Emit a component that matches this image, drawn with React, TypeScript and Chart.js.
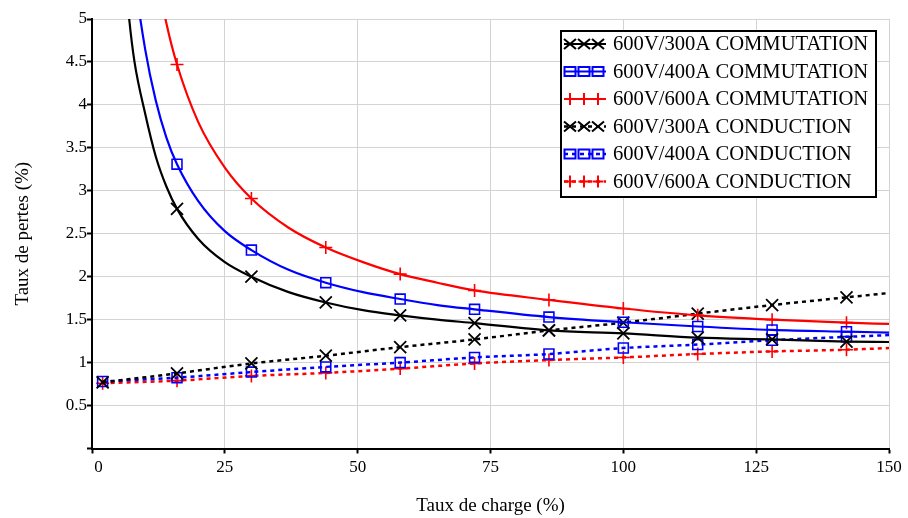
import React, { useEffect, useRef } from 'react';
import { Chart, registerables } from 'chart.js';

Chart.register(...registerables);

// ---- Data ----
const seriesLabels = [
  '600V/300A COMMUTATION',
  '600V/400A COMMUTATION',
  '600V/600A COMMUTATION',
  '600V/300A CONDUCTION',
  '600V/400A CONDUCTION',
  '600V/600A CONDUCTION',
];

// load (%) where markers are drawn
const markerLoads = [2, 16, 30, 44, 58, 72, 86, 100, 114, 128, 142];

// commutation curves (load %, loss %)
const commLoads = [5, 6, 7, 8, 10, 12, 14, 16, 20, 25, 30, 37, 44, 51, 58, 65, 72, 86, 100, 114, 128, 142, 150];
const comm300 = [6.6, 5.7, 5.0, 4.5, 3.9, 3.4, 3.05, 2.79, 2.44, 2.17, 2.0, 1.82, 1.7, 1.61, 1.55, 1.5, 1.46, 1.375, 1.34, 1.29, 1.27, 1.245, 1.24];
const comm400 = [8.1, 7.0, 6.1, 5.5, 4.65, 4.05, 3.62, 3.31, 2.88, 2.53, 2.31, 2.08, 1.93, 1.82, 1.74, 1.67, 1.62, 1.53, 1.47, 1.42, 1.38, 1.36, 1.35];
const comm600 = [11.9, 10.1, 8.8, 7.9, 6.5, 5.6, 4.95, 4.47, 3.8, 3.27, 2.91, 2.57, 2.34, 2.17, 2.03, 1.93, 1.84, 1.73, 1.63, 1.55, 1.5, 1.465, 1.45];

// conduction curves
const condLoads = [2, 16, 30, 44, 58, 72, 86, 100, 114, 128, 142, 150];
const cond300 = [0.77, 0.875, 0.99, 1.08, 1.18, 1.27, 1.375, 1.465, 1.57, 1.67, 1.76, 1.81];
const cond400 = [0.78, 0.825, 0.89, 0.95, 1.0, 1.06, 1.1, 1.17, 1.21, 1.26, 1.3, 1.32];
const cond600 = [0.76, 0.79, 0.845, 0.88, 0.93, 0.99, 1.03, 1.06, 1.1, 1.13, 1.15, 1.17];

// axes
const yTicksMax = 5;
const yStep = 0.5;
const xMax = 150;
const xStep = 25;
const xTitle = 'Taux de charge (%)';
const yTitle = 'Taux de pertes (%)';

const FONT = "'Liberation Serif', 'Times New Roman', serif";

function pts(xs: number[], ys: number[]) {
  return xs.map((x, i) => ({ x, y: ys[i] }));
}

function radii(xs: number[], r: number) {
  return xs.map((x) => (markerLoads.includes(x) ? r : 0));
}

function drawMark(ctx: CanvasRenderingContext2D, style: string, x: number, y: number) {
  ctx.beginPath();
  if (style === 'crossRot') {
    const d = 6;
    ctx.moveTo(x - d, y - d * 0.85);
    ctx.lineTo(x + d, y + d * 0.85);
    ctx.moveTo(x + d, y - d * 0.85);
    ctx.lineTo(x - d, y + d * 0.85);
  } else if (style === 'cross') {
    ctx.moveTo(x - 5.5, y);
    ctx.lineTo(x + 5.5, y);
    ctx.moveTo(x, y - 6);
    ctx.lineTo(x, y + 6);
  } else {
    ctx.rect(x - 5.5, y - 4.5, 11, 9);
  }
  ctx.stroke();
}

const boxLegend = {
  id: 'boxLegend',
  afterDraw(chart: any) {
    const ctx: CanvasRenderingContext2D = chart.ctx;
    const bx = 561, by = 31, bw = 315, bh = 166;
    ctx.save();
    ctx.fillStyle = '#ffffff';
    ctx.fillRect(bx, by, bw, bh);
    ctx.lineWidth = 2;
    ctx.strokeStyle = '#000';
    ctx.setLineDash([]);
    ctx.strokeRect(bx, by, bw, bh);
    chart.data.datasets.forEach((ds: any, i: number) => {
      const y = 44 + i * 27.5;
      ctx.strokeStyle = ds.borderColor;
      ctx.lineWidth = ds.borderWidth;
      ctx.setLineDash(ds.borderDash || []);
      ctx.beginPath();
      ctx.moveTo(564, y);
      ctx.lineTo(606, y);
      ctx.stroke();
      ctx.setLineDash([]);
      ctx.lineWidth = 2;
      [570, 584, 598].forEach((mx) => drawMark(ctx, ds.pointStyle, mx, y));
      ctx.fillStyle = '#000';
      ctx.font = `20.6px ${FONT}`;
      ctx.textAlign = 'left';
      ctx.textBaseline = 'middle';
      ctx.fillText(ds.label, 613, y + 1);
    });
    ctx.restore();
  },
};

export default function App() {
  const ref = useRef<HTMLCanvasElement | null>(null);

  useEffect(() => {
    document.body.style.margin = '0';
    const canvas = ref.current;
    if (!canvas) return;

    const common = {
      showLine: true,
      fill: false,
      pointBackgroundColor: 'rgba(0,0,0,0)',
      pointHoverRadius: 0,
      cubicInterpolationMode: 'monotone' as const,
    };

    const chart = new Chart(canvas, {
      type: 'line',
      data: {
        datasets: [
          {
            ...common,
            label: seriesLabels[0],
            data: pts(commLoads, comm300),
            borderColor: '#000000',
            pointBorderColor: '#000000',
            borderWidth: 2.2,
            pointStyle: 'crossRot',
            pointRadius: radii(commLoads, 8.5),
            pointBorderWidth: 1.8,
          },
          {
            ...common,
            label: seriesLabels[1],
            data: pts(commLoads, comm400),
            borderColor: '#0000ff',
            pointBorderColor: '#0000ff',
            borderWidth: 2.2,
            pointStyle: 'rect',
            pointRadius: radii(commLoads, 7),
            pointBorderWidth: 1.6,
          },
          {
            ...common,
            label: seriesLabels[2],
            data: pts(commLoads, comm600),
            borderColor: '#ff0000',
            pointBorderColor: '#ff0000',
            borderWidth: 2.2,
            pointStyle: 'cross',
            pointRadius: radii(commLoads, 6.5),
            pointBorderWidth: 1.6,
          },
          {
            ...common,
            label: seriesLabels[3],
            data: pts(condLoads, cond300),
            borderColor: '#000000',
            pointBorderColor: '#000000',
            borderWidth: 2.5,
            borderDash: [4, 4],
            pointStyle: 'crossRot',
            pointRadius: radii(condLoads, 8.5),
            pointBorderWidth: 1.8,
          },
          {
            ...common,
            label: seriesLabels[4],
            data: pts(condLoads, cond400),
            borderColor: '#0000ff',
            pointBorderColor: '#0000ff',
            borderWidth: 2.5,
            borderDash: [4, 4],
            pointStyle: 'rect',
            pointRadius: radii(condLoads, 7),
            pointBorderWidth: 1.6,
          },
          {
            ...common,
            label: seriesLabels[5],
            data: pts(condLoads, cond600),
            borderColor: '#ff0000',
            pointBorderColor: '#ff0000',
            borderWidth: 2.5,
            borderDash: [4, 4],
            pointStyle: 'cross',
            pointRadius: radii(condLoads, 6.5),
            pointBorderWidth: 1.6,
          },
        ],
      },
      options: {
        responsive: false,
        animation: false,
        events: [],
        layout: { padding: { top: 19, right: 19, bottom: 0, left: 0 } },
        plugins: {
          legend: { display: false },
          tooltip: { enabled: false },
        },
        scales: {
          x: {
            type: 'linear',
            min: 0,
            max: xMax,
            afterFit: (s: any) => {
              s.height = 69.5;
            },
            ticks: {
              stepSize: xStep,
              color: '#000',
              padding: 4,
              maxRotation: 0,
              font: { family: FONT, size: 17 },
              callback: (v: any) => (Number(v) === 0 ? '   0' : String(v)),
            },
            grid: {
              color: '#d3d3d3',
              lineWidth: 1,
              tickColor: '#000',
              tickLength: 5,
              tickWidth: 2,
            },
            border: { color: '#000', width: 2 },
            title: {
              display: true,
              text: xTitle,
              color: '#000',
              font: { family: FONT, size: 19 },
              padding: { top: 0, bottom: 1 },
            },
          },
          y: {
            type: 'linear',
            min: 0,
            max: yTicksMax,
            afterFit: (s: any) => {
              s.width = 92;
            },
            ticks: {
              stepSize: yStep,
              color: '#000',
              padding: 0,
              font: { family: FONT, size: 17 },
              callback: (v: any) => (Number(v) === 0 ? '' : String(v)),
            },
            grid: {
              color: '#d3d3d3',
              lineWidth: 1,
              tickColor: '#000',
              tickLength: 5,
              tickWidth: 2,
            },
            border: { color: '#000', width: 2 },
            title: {
              display: true,
              text: yTitle,
              color: '#000',
              font: { family: FONT, size: 19 },
              padding: { top: 12, bottom: 0 },
            },
          },
        },
      },
      plugins: [boxLegend],
    });

    return () => chart.destroy();
  }, []);

  return (
    <div style={{ width: 908, height: 518, background: '#fff' }}>
      <canvas ref={ref} width={908} height={518} />
    </div>
  );
}
